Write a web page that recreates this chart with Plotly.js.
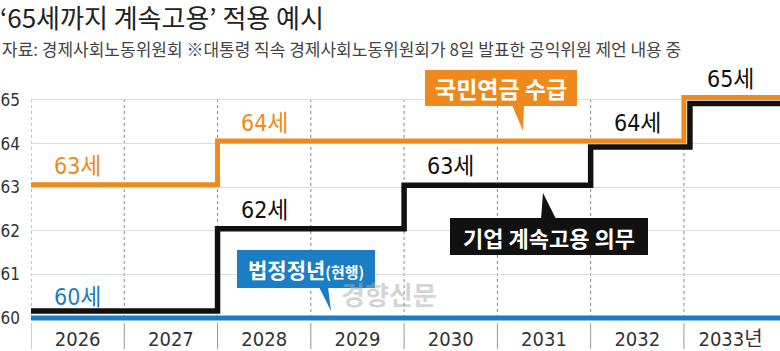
<!DOCTYPE html>
<html><head><meta charset="utf-8">
<script src="https://cdn.plot.ly/plotly-3.0.1.min.js"></script>
<style>html,body{margin:0;padding:0;background:#fff;}#chart{width:780px;height:351px;}</style>
</head><body><div id="chart"></div>
<script>
// ---- data ----
const years = ['2026','2027','2028','2029','2030','2031','2032','2033'];
const yearLabels = ['2026','2027','2028','2029','2030','2031','2032','2033년'];
const pension = [63,63,64,64,64,64,64,65];      // 국민연금 수급
const employment = [60,60,62,62,63,63,64,65];   // 기업 계속고용 의무
const retirement = [60,60,60,60,60,60,60,60];   // 법정정년(현행)
const yTicks = [60,61,62,63,64,65];

// ---- style ----
const ORANGE = '#EE8A1D', BLACK = '#111111', BLUE = '#1B7EC4';
const NARROW = '"Liberation Sans Narrow", "DejaVu Sans Condensed", "Noto Sans CJK KR", sans-serif';
const KR = '"Noto Sans CJK KR", "Noto Sans", sans-serif';
const W = 780, H = 351, ML = 31, MR = 0, MT = 88, MB = 30;
const PW = W - ML - MR, PH = H - MT - MB;
const yRange = [59.931, 65.275];
const xRange = [-0.5, 7.53];
const pxPerUnitY = PH / (yRange[1] - yRange[0]);
const d = px => px / pxPerUnitY;   // pixel -> y data units
const px = x => (x - ML) / PW;      // pixel -> paper x
const py = y => (MT + PH - y) / PH; // pixel -> paper y

// step trace builder (values change at category boundaries)
function stepTrace(vals, offsetFn, xShiftFn, color, width, name) {
  const xs = [], ys = [];
  vals.forEach((v, i) => { xs.push(i - 0.5 + xShiftFn(i)); ys.push(v + offsetFn(i)); });
  xs.push(xRange[1]); ys.push(vals[vals.length - 1] + offsetFn(vals.length - 1));
  return {x: xs, y: ys, mode: 'lines', line: {shape: 'hv', color: color, width: width},
          name: name, hoverinfo: 'skip', showlegend: false};
}
const pensionOff = i => d(2.5);
const employOff = i => employment[i] === retirement[i] ? d(7) : (employment[i] === pension[i] ? -d(3.5) : d(2));
const employXShift = i => (i > 0 && employment[i] === pension[i] && employment[i-1] === pension[i-1]) ? 6 / (PW / (xRange[1]-xRange[0])) : 0;

const traces = [
  stepTrace(employment, employOff, employXShift, BLACK, 5.5, '기업 계속고용 의무'),
  stepTrace(retirement, i => 0, i => 0, BLUE, 5, '법정정년(현행)'),
  stepTrace(pension, pensionOff, i => 0, ORANGE, 5, '국민연금 수급')
];

// value labels at level changes; shared labels kept by priority
const series = [
  {vals: retirement, color: BLUE},
  {vals: employment, color: BLACK},
  {vals: pension, color: ORANGE}
];
const seen = new Set();
const annotations = [];
series.forEach(s => {
  s.vals.forEach((v, i) => {
    if (i > 0 && s.vals[i-1] === v) return;
    const key = i + ':' + v;
    if (seen.has(key)) return;
    seen.add(key);
    annotations.push({x: i, y: v, xref: 'x', yref: 'y', text: v + '세', showarrow: false,
      yanchor: 'middle', yshift: 21, font: {family: NARROW, size: 23, color: s.color}});
  });
});

// subtitle
annotations.push({xref: 'paper', yref: 'paper', x: px(0), y: py(49), xanchor: 'left', yanchor: 'middle',
  showarrow: false, text: '자료: 경제사회노동위원회 ※대통령 직속 경제사회노동위원회가 8일 발표한 공익위원 제언 내용 중',
  font: {family: KR, size: 17, color: '#444'}});

// callout boxes
const shapes = [];
function callout(x0, y0, x1, y1, tail, color, text, size) {
  shapes.push({type: 'rect', xref: 'paper', yref: 'paper', x0: px(x0), x1: px(x1), y0: py(y1), y1: py(y0),
    fillcolor: color, line: {width: 0}, layer: 'above'});
  shapes.push({type: 'path', xref: 'paper', yref: 'paper', fillcolor: color, line: {width: 0}, layer: 'above',
    path: 'M' + tail.map(p => px(p[0]) + ',' + py(p[1])).join(' L') + ' Z'});
  annotations.push({xref: 'paper', yref: 'paper', x: px((x0 + x1) / 2), y: py((y0 + y1) / 2),
    xanchor: 'center', yanchor: 'middle', showarrow: false, text: text,
    font: {family: KR, size: size, color: '#fff', weight: 'bold'}});
}
callout(425, 70, 577, 106, [[512,105],[524,105],[523,131]], ORANGE, '국민연금 수급', 23);
callout(450, 218, 648, 255, [[541,219],[556,219],[543,193]], BLACK, '기업 계속고용 의무', 22);
callout(237, 250, 375, 288, [[319,287],[328,287],[331,311]], BLUE, '법정정년<span style="font-size:15px">(현행)</span>', 21);

// watermark
annotations.push({xref: 'paper', yref: 'paper', x: px(389), y: py(314), showarrow: false, text: '<b>경향신문</b>',
  font: {family: KR, size: 26, color: 'rgba(170,170,170,0.5)'}});

// dashed vertical separators in plot, solid separators in label band
for (let i = 0; i < years.length; i++) {
  const xb = i - 0.5;
  shapes.push({type: 'line', xref: 'x', yref: 'y', x0: xb, x1: xb, y0: yTicks[0], y1: yTicks[yTicks.length-1] + d(1),
    line: {color: '#888', width: 1, dash: '3px,3px'}, layer: 'below'});
  shapes.push({type: 'line', xref: 'x', yref: 'paper', x0: xb, x1: xb, y0: py(323), y1: py(349),
    line: {color: '#999', width: 1}, layer: 'below'});
}

const layout = {
  width: W, height: H,
  margin: {l: ML, r: MR, t: MT, b: MB, pad: 0},
  paper_bgcolor: '#fff', plot_bgcolor: '#fff',
  title: {text: '‘65세까지 계속고용’ 적용 예시', x: 0, xref: 'container', xanchor: 'left',
    y: 1 - 19 / H, yref: 'container', yanchor: 'middle',
    font: {family: KR, size: 26, color: '#222'}},
  xaxis: {range: xRange, tickvals: years.map((y, i) => i), ticktext: yearLabels,
    showgrid: false, zeroline: false, showline: false, ticks: '', fixedrange: true,
    ticklabelstandoff: 4, tickfont: {family: NARROW, size: 20, color: '#333'}},
  yaxis: {range: yRange, tickvals: yTicks, ticktext: yTicks.map(String),
    showgrid: true, gridcolor: '#dcdcdc', gridwidth: 1, zeroline: false, showline: false, ticks: '',
    ticklabelstandoff: 10, fixedrange: true, tickfont: {family: NARROW, size: 17, color: '#333'}},
  shapes: shapes,
  annotations: annotations,
  showlegend: false
};
Plotly.newPlot('chart', traces, layout, {displayModeBar: false, staticPlot: true});
</script></body></html>
